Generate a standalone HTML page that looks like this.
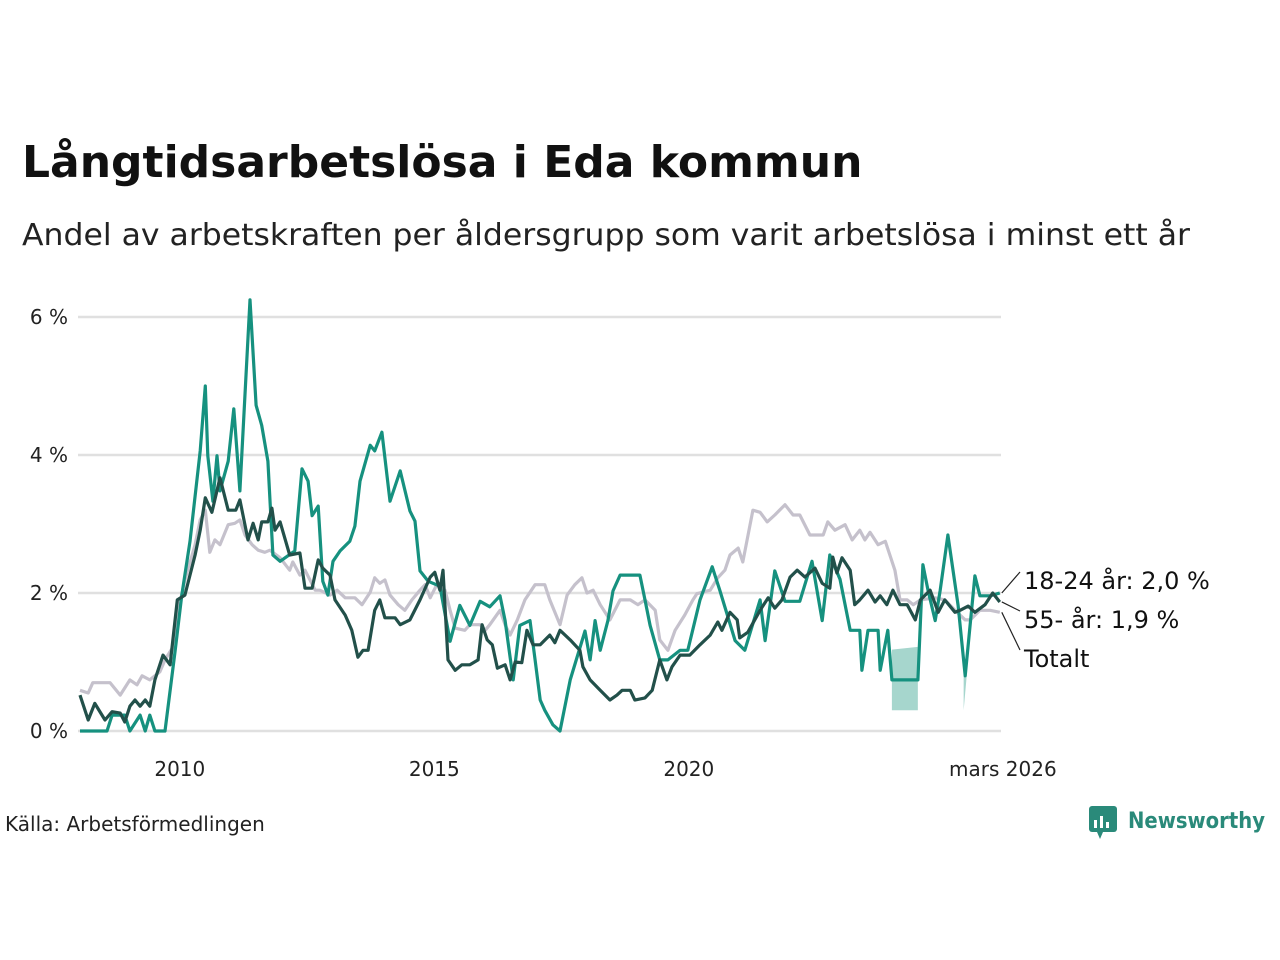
<!DOCTYPE html>
<html><head><meta charset="utf-8">
<style>
body{margin:0;background:#fff;font-family:"Liberation Sans","DejaVu Sans",sans-serif;}
#wrap{position:relative;width:1280px;height:960px;overflow:hidden;}
</style></head>
<body><div id="wrap">
<svg id="chart" width="1280" height="960" style="position:absolute;left:0;top:0">
<text x="22" y="177" font-size="44" font-weight="bold" fill="#111" font-family="DejaVu Sans, sans-serif">Långtidsarbetslösa i Eda kommun</text>
<text x="22" y="245" font-size="30" fill="#222" font-family="DejaVu Sans, sans-serif" textLength="1168" lengthAdjust="spacingAndGlyphs">Andel av arbetskraften per åldersgrupp som varit arbetslösa i minst ett år</text>
<g id="grid"></g><g id="bands"></g><g id="lines"></g><g id="labels"></g>
<text x="5" y="831" font-size="20" fill="#222" font-family="DejaVu Sans, sans-serif">Källa: Arbetsförmedlingen</text>
<g>
<rect x="1089" y="806" width="28" height="26" rx="3" fill="#2a8a7a"/>
<polygon points="1097,832 1103,832 1100,839" fill="#2a8a7a"/>
<rect x="1094" y="820" width="3" height="8" fill="#fff"/><rect x="1100" y="816" width="3" height="12" fill="#fff"/><rect x="1106" y="822" width="3" height="6" fill="#fff"/>
<text x="1128" y="828" font-size="22" font-weight="bold" fill="#2a8a7a" font-family="DejaVu Sans, sans-serif" textLength="137" lengthAdjust="spacingAndGlyphs">Newsworthy</text>
</g>
</svg>
</div>
<script>
const yTicks=[0,2,4,6];
const xTickYears=[2010,2015,2020];
const xTickLabels=["2010","2015","2020"];
const lastLabel="mars 2026";
const lastTime=2026.17;

const t1824=[2008.04,2008.57,2008.67,2008.92,2009.02,2009.22,2009.32,2009.41,2009.51,2009.71,2009.91,2010.04,2010.2,2010.4,2010.5,2010.55,2010.65,2010.73,2010.79,2010.95,2011.06,2011.18,2011.38,2011.5,2011.61,2011.73,2011.83,2011.97,2012.26,2012.4,2012.52,2012.6,2012.72,2012.81,2012.91,2013.01,2013.15,2013.34,2013.44,2013.54,2013.74,2013.83,2013.97,2014.13,2014.33,2014.52,2014.62,2014.72,2014.88,2015.11,2015.31,2015.5,2015.7,2015.9,2016.09,2016.29,2016.39,2016.55,2016.68,2016.88,2016.98,2017.08,2017.17,2017.33,2017.47,2017.67,2017.96,2018.06,2018.16,2018.26,2018.41,2018.51,2018.65,2019.04,2019.14,2019.24,2019.43,2019.59,2019.83,2019.98,2020.22,2020.46,2020.61,2020.91,2021.1,2021.4,2021.5,2021.69,2021.89,2022.18,2022.42,2022.62,2022.77,2022.97,2023.17,2023.36,2023.4,2023.52,2023.72,2023.76,2023.91,2023.99,2024.5,2024.6,2024.7,2024.84,2024.94,2025.09,2025.29,2025.43,2025.62,2025.72,2025.92,2026.11];
const v1824=[0,0,0.23,0.23,0,0.23,0,0.23,0,0,1.17,1.97,2.75,4.06,5.0,3.99,3.33,3.99,3.48,3.91,4.67,3.48,6.25,4.72,4.43,3.91,2.55,2.46,2.61,3.8,3.62,3.12,3.26,2.17,1.97,2.46,2.61,2.75,2.97,3.62,4.14,4.06,4.33,3.33,3.77,3.19,3.04,2.32,2.17,2.1,1.3,1.82,1.53,1.88,1.8,1.96,1.6,0.74,1.53,1.6,1.03,0.45,0.3,0.09,0,0.74,1.45,1.03,1.6,1.17,1.6,2.03,2.26,2.26,1.9,1.53,1.03,1.03,1.17,1.17,1.9,2.38,2.04,1.31,1.17,1.9,1.31,2.32,1.88,1.88,2.46,1.6,2.55,2.2,1.46,1.46,0.88,1.46,1.46,0.88,1.46,0.74,0.74,2.41,2.04,1.6,2.04,2.84,1.82,0.8,2.25,1.96,1.96,2.0];

const t55=[2008.04,2008.2,2008.33,2008.53,2008.67,2008.83,2008.92,2009.02,2009.12,2009.22,2009.32,2009.41,2009.51,2009.67,2009.81,2009.95,2010.1,2010.3,2010.4,2010.5,2010.63,2010.79,2010.95,2011.1,2011.18,2011.34,2011.44,2011.54,2011.61,2011.73,2011.81,2011.87,2011.97,2012.16,2012.36,2012.46,2012.6,2012.72,2012.81,2012.95,2013.05,2013.25,2013.38,2013.5,2013.6,2013.7,2013.83,2013.93,2014.03,2014.23,2014.33,2014.52,2014.72,2014.92,2015.01,2015.11,2015.17,2015.27,2015.41,2015.54,2015.7,2015.86,2015.94,2016.04,2016.14,2016.24,2016.39,2016.49,2016.59,2016.72,2016.82,2016.94,2017.08,2017.27,2017.37,2017.47,2017.67,2017.86,2017.92,2018.06,2018.26,2018.45,2018.59,2018.69,2018.85,2018.94,2019.14,2019.28,2019.43,2019.57,2019.67,2019.83,2020.02,2020.22,2020.42,2020.57,2020.65,2020.81,2020.95,2021.0,2021.16,2021.4,2021.56,2021.69,2021.83,2021.99,2022.13,2022.28,2022.48,2022.62,2022.77,2022.83,2022.91,2023.01,2023.17,2023.26,2023.36,2023.52,2023.66,2023.76,2023.89,2024.01,2024.15,2024.29,2024.45,2024.55,2024.74,2024.9,2025.03,2025.23,2025.33,2025.49,2025.62,2025.82,2025.97,2026.11];
const v55=[0.52,0.16,0.4,0.16,0.28,0.26,0.13,0.36,0.45,0.36,0.45,0.36,0.74,1.1,0.96,1.9,1.97,2.55,2.91,3.38,3.17,3.67,3.2,3.2,3.35,2.77,3.01,2.77,3.03,3.03,3.23,2.91,3.03,2.55,2.58,2.07,2.07,2.48,2.36,2.26,1.9,1.68,1.46,1.07,1.17,1.17,1.75,1.9,1.64,1.64,1.54,1.61,1.9,2.23,2.3,2.04,2.33,1.03,0.88,0.96,0.96,1.03,1.54,1.32,1.25,0.91,0.96,0.74,1.0,0.99,1.46,1.25,1.25,1.39,1.28,1.46,1.32,1.17,0.93,0.74,0.59,0.45,0.52,0.59,0.59,0.45,0.48,0.59,1.03,0.74,0.93,1.1,1.1,1.25,1.39,1.58,1.46,1.72,1.61,1.35,1.43,1.75,1.93,1.78,1.9,2.23,2.33,2.23,2.36,2.14,2.07,2.52,2.29,2.51,2.33,1.83,1.9,2.04,1.87,1.96,1.83,2.04,1.83,1.83,1.61,1.9,2.04,1.72,1.9,1.72,1.75,1.81,1.72,1.83,2.0,1.87];

const tTot=[2008.04,2008.2,2008.29,2008.63,2008.83,2009.02,2009.16,2009.26,2009.41,2009.61,2009.71,2009.85,2009.97,2010.1,2010.3,2010.4,2010.5,2010.59,2010.69,2010.79,2010.95,2011.08,2011.18,2011.28,2011.42,2011.54,2011.67,2011.77,2011.97,2012.16,2012.22,2012.36,2012.46,2012.66,2012.75,2012.95,2013.09,2013.25,2013.44,2013.58,2013.74,2013.83,2013.93,2014.03,2014.13,2014.29,2014.42,2014.56,2014.72,2014.82,2014.92,2015.05,2015.21,2015.31,2015.41,2015.6,2015.7,2015.9,2016.0,2016.09,2016.29,2016.39,2016.49,2016.63,2016.78,2016.98,2017.17,2017.27,2017.47,2017.61,2017.76,2017.9,2018.0,2018.12,2018.26,2018.45,2018.65,2018.85,2019.0,2019.14,2019.34,2019.43,2019.59,2019.73,2019.92,2020.08,2020.16,2020.42,2020.57,2020.71,2020.81,2020.97,2021.06,2021.26,2021.4,2021.54,2021.69,2021.89,2022.05,2022.18,2022.38,2022.64,2022.73,2022.87,2023.07,2023.21,2023.36,2023.46,2023.56,2023.72,2023.86,2024.05,2024.15,2024.29,2024.41,2024.55,2024.84,2025.03,2025.23,2025.43,2025.53,2025.72,2025.92,2026.11];
const vTot=[0.59,0.55,0.7,0.7,0.52,0.74,0.67,0.8,0.74,0.86,1.03,1.2,1.75,2.19,2.7,3.06,3.2,2.59,2.77,2.7,2.99,3.01,3.06,2.84,2.7,2.62,2.59,2.62,2.51,2.33,2.45,2.26,2.33,2.04,2.04,1.97,2.04,1.93,1.93,1.83,2.01,2.22,2.14,2.19,1.97,1.83,1.75,1.9,2.04,2.12,1.93,2.12,2.04,1.75,1.49,1.46,1.54,1.54,1.46,1.54,1.75,1.54,1.39,1.61,1.9,2.12,2.12,1.9,1.54,1.97,2.12,2.22,2.0,2.04,1.83,1.61,1.9,1.9,1.83,1.9,1.75,1.32,1.17,1.46,1.68,1.9,1.99,2.04,2.22,2.33,2.55,2.65,2.45,3.2,3.17,3.03,3.13,3.28,3.13,3.13,2.84,2.84,3.03,2.91,2.99,2.77,2.91,2.77,2.88,2.7,2.75,2.33,1.9,1.9,1.83,1.9,1.93,1.9,1.75,1.61,1.61,1.75,1.75,1.72];

const bandT=[[2023.99,2024.5],[2025.40,2025.46]];
const bandLo=[[0.3,0.3],[0.3,0.8]];
const bandHi=[[1.18,1.22],[0.8,0.8]];

const X0=78,X1=1001,Y0=731,PX_PER_PCT=69,PX_PER_YEAR=50.9;
const xs=t=>X0+(t-2008)*PX_PER_YEAR;
const ys=v=>Y0-v*PX_PER_PCT;
const NS="http://www.w3.org/2000/svg";
function mk(tag,parent){const e=document.createElementNS(NS,tag);parent.appendChild(e);return e;}
const grid=document.getElementById('grid');
yTicks.forEach(v=>{
  const l=mk('line',grid);
  
  
  l.setAttribute('x1',X0);l.setAttribute('x2',X1);l.setAttribute('y1',ys(v));l.setAttribute('y2',ys(v));
  l.setAttribute('stroke','#e0e0e0');l.setAttribute('stroke-width','2.5');
  const tx=mk('text',grid);
  
  
  tx.setAttribute('x',68);tx.setAttribute('y',ys(v)+7);tx.setAttribute('text-anchor','end');
  tx.setAttribute('font-size','20');tx.setAttribute('fill','#222');tx.setAttribute('font-family','DejaVu Sans, sans-serif');
  tx.textContent=v+' %';
});
xTickYears.forEach((yr,i)=>{
  const tx=mk('text',grid);
  
  
  tx.setAttribute('x',xs(yr));tx.setAttribute('y',776);tx.setAttribute('text-anchor','middle');
  tx.setAttribute('font-size','20');tx.setAttribute('fill','#222');tx.setAttribute('font-family','DejaVu Sans, sans-serif');
  tx.textContent=xTickLabels[i];
});
const lt=mk('text',grid);


lt.setAttribute('x',xs(lastTime));lt.setAttribute('y',776);lt.setAttribute('text-anchor','middle');
lt.setAttribute('font-size','20');lt.setAttribute('fill','#222');lt.setAttribute('font-family','DejaVu Sans, sans-serif');
lt.textContent=lastLabel;

const bands=document.getElementById('bands');
bandT.forEach((bt,i)=>{
  const p=mk('polygon',bands);
  
  
  const pts=[[bt[0],bandHi[i][0]],[bt[1],bandHi[i][1]],[bt[1],bandLo[i][1]],[bt[0],bandLo[i][0]]];
  p.setAttribute('points',pts.map(q=>xs(q[0])+','+ys(q[1])).join(' '));
  p.setAttribute('fill','#a6d6cd');
});
const lines=document.getElementById('lines');
function drawLine(t,v,color,name){
  const p=mk('polyline',lines);
  
  
  p.setAttribute('points',t.map((tt,i)=>xs(tt).toFixed(1)+','+ys(v[i]).toFixed(1)).join(' '));
  p.setAttribute('fill','none');p.setAttribute('stroke',color);p.setAttribute('stroke-width','3.2');p.setAttribute('stroke-linejoin','round');
}
drawLine(tTot,vTot,'#c5c1cc','line-totalt');
drawLine(t1824,v1824,'#16917f','line-18-24');
drawLine(t55,v55,'#22504a','line-55');

const labels=document.getElementById('labels');
const labText=["18-24 år: 2,0 %","55- år: 1,9 %","Totalt"];
const labEndV=[v1824[v1824.length-1],v55[v55.length-1],vTot[vTot.length-1]];
const labY=[580,619,658];
labText.forEach((s,i)=>{
  const l=mk('polyline',labels);
  
  
  const ex=xs(t1824[t1824.length-1])+2,ey=ys(labEndV[i]);
  l.setAttribute('points',ex+','+ey+' '+(1020)+','+(labY[i]-8));
  l.setAttribute('stroke','#222');l.setAttribute('stroke-width','1.2');l.setAttribute('fill','none');
  const tx=mk('text',labels);
  
  
  tx.setAttribute('x',1024);tx.setAttribute('y',labY[i]+9);
  tx.setAttribute('font-size','24');tx.setAttribute('fill','#111');tx.setAttribute('font-family','DejaVu Sans, sans-serif');
  tx.textContent=s;
});
</script>
</body></html>
